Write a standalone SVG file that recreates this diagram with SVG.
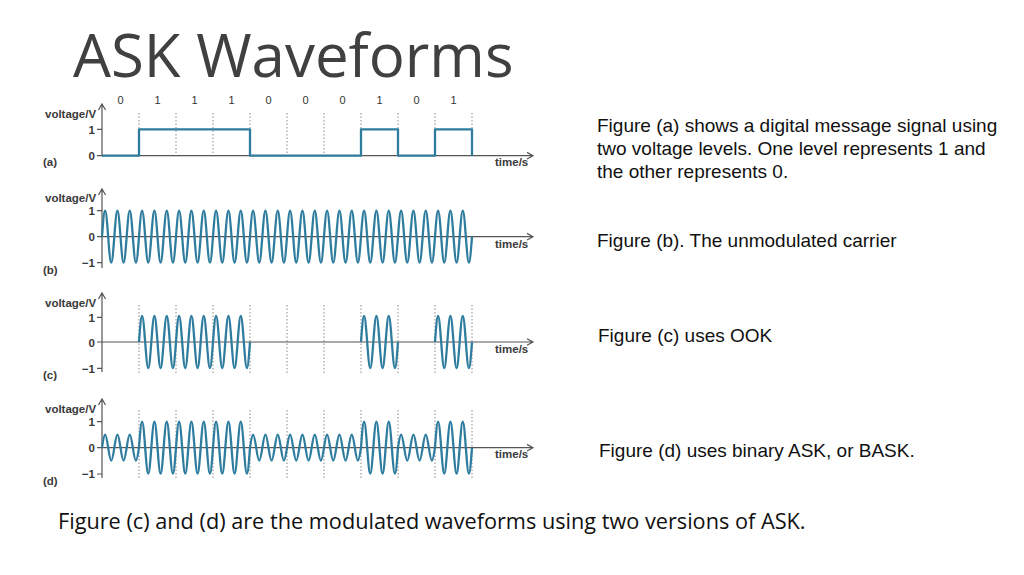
<svg xmlns="http://www.w3.org/2000/svg" xmlns:xlink="http://www.w3.org/1999/xlink" width="1024" height="575" viewBox="0 0 1024 575">
<style>
.ax{stroke:#555;stroke-width:1.2;fill:none}
.dot{stroke:#8a8a8a;stroke-width:1;stroke-dasharray:1.5 2;fill:none}
.sig{stroke:#2f7d9e;stroke-width:2.3;fill:none;stroke-linejoin:round}
.lbl{font-family:"Liberation Sans",Arial,sans-serif;font-size:11.5px;font-weight:bold;fill:#3a3a3a}
.tk{font-family:"Liberation Sans",Arial,sans-serif;font-size:11.5px;font-weight:bold;fill:#3a3a3a;text-anchor:end}
.bit{font-family:"Liberation Sans",Arial,sans-serif;font-size:11px;fill:#333;text-anchor:middle}
.desc{font-family:"Liberation Sans",Arial,sans-serif;font-size:19px;fill:#111}
</style>
<defs>
<path id="bF" d="M0,0 c2.617,-34.667 3.55,-34.667 6.167,0 s3.55,34.667 6.167,0 s3.55,-34.667 6.167,0 s3.55,34.667 6.167,0 s3.55,-34.667 6.167,0 s3.55,34.667 6.167,0"/>
<path id="bH" d="M0,0 c2.617,-17.333 3.55,-17.333 6.167,0 s3.55,17.333 6.167,0 s3.55,-17.333 6.167,0 s3.55,17.333 6.167,0 s3.55,-17.333 6.167,0 s3.55,17.333 6.167,0"/>
</defs>
<rect width="1024" height="575" fill="#fff"/>
<text x="73" y="76.5" font-family="'Open Sans',sans-serif" font-size="60" fill="#404040">ASK Waveforms</text>

<g id="panel-a">
<g class="bit">
<text x="120.5" y="103.5">0</text><text x="157.5" y="103.5">1</text><text x="194.5" y="103.5">1</text><text x="231.5" y="103.5">1</text><text x="268.5" y="103.5">0</text><text x="305.5" y="103.5">0</text><text x="342.5" y="103.5">0</text><text x="379.5" y="103.5">1</text><text x="416.5" y="103.5">0</text><text x="453.5" y="103.5">1</text>
</g>
<path class="dot" d="M139,113V155.7M176,113V155.7M213,113V155.7M250,113V155.7M287,113V155.7M324,113V155.7M361,113V155.7M398,113V155.7M435,113V155.7M472,113V155.7"/>
<path class="ax" d="M102,104V155.7M98.5,110L102,104L105.5,110M97,129.3H102M97,155.7H533M527,152.4L533,155.7L527,159"/>
<path class="sig" d="M102,155.7H139V129.3H250V155.7H361V129.3H398V155.7H435V129.3H472V155.7"/>
<text class="lbl" x="45" y="117.5">voltage/V</text>
<text class="tk" x="95" y="133.5">1</text>
<text class="tk" x="95" y="160">0</text>
<text class="lbl" x="43" y="166">(a)</text>
<text class="lbl" x="495" y="166">time/s</text>
</g>

<g id="panel-b">
<path class="ax" d="M102,189V268M98.5,195L102,189L105.5,195M97,210.7H102M97,262.7H102M97,236.7H533M527,233.4L533,236.7L527,240"/>
<g class="sig">
<use xlink:href="#bF" x="102" y="236.7"/><use xlink:href="#bF" x="139" y="236.7"/><use xlink:href="#bF" x="176" y="236.7"/><use xlink:href="#bF" x="213" y="236.7"/><use xlink:href="#bF" x="250" y="236.7"/><use xlink:href="#bF" x="287" y="236.7"/><use xlink:href="#bF" x="324" y="236.7"/><use xlink:href="#bF" x="361" y="236.7"/><use xlink:href="#bF" x="398" y="236.7"/><use xlink:href="#bF" x="435" y="236.7"/>
</g>
<text class="lbl" x="45" y="202">voltage/V</text>
<text class="tk" x="95" y="215">1</text>
<text class="tk" x="95" y="241">0</text>
<text class="tk" x="95" y="267">−1</text>
<text class="lbl" x="43" y="274">(b)</text>
<text class="lbl" x="495" y="248">time/s</text>
</g>

<g id="panel-c">
<path class="dot" d="M139,305V375M176,305V375M213,305V375M250,305V375M287,305V375M324,305V375M361,305V375M398,305V375M435,305V375M472,305V375"/>
<path class="ax" d="M102,293V372M98.5,299L102,293L105.5,299M97,317.3H102M97,368.3H102M97,342H533M527,338.7L533,342L527,345.3"/>
<g class="sig">
<use xlink:href="#bF" x="139" y="342"/><use xlink:href="#bF" x="176" y="342"/><use xlink:href="#bF" x="213" y="342"/><use xlink:href="#bF" x="361" y="342"/><use xlink:href="#bF" x="435" y="342"/>
</g>
<text class="lbl" x="45" y="306.5">voltage/V</text>
<text class="tk" x="95" y="321.5">1</text>
<text class="tk" x="95" y="346.5">0</text>
<text class="tk" x="95" y="372.5">−1</text>
<text class="lbl" x="43" y="379">(c)</text>
<text class="lbl" x="495" y="353">time/s</text>
</g>

<g id="panel-d">
<path class="dot" d="M139,410V480M176,410V480M213,410V480M250,410V480M287,410V480M324,410V480M361,410V480M398,410V480M435,410V480M472,410V480"/>
<path class="ax" d="M102,399V478M98.5,405L102,399L105.5,405M97,421.7H102M97,474H102M97,447.7H533M527,444.4L533,447.7L527,451"/>
<g class="sig">
<use xlink:href="#bH" x="102" y="447.7"/><use xlink:href="#bF" x="139" y="447.7"/><use xlink:href="#bF" x="176" y="447.7"/><use xlink:href="#bF" x="213" y="447.7"/><use xlink:href="#bH" x="250" y="447.7"/><use xlink:href="#bH" x="287" y="447.7"/><use xlink:href="#bH" x="324" y="447.7"/><use xlink:href="#bF" x="361" y="447.7"/><use xlink:href="#bH" x="398" y="447.7"/><use xlink:href="#bF" x="435" y="447.7"/>
</g>
<text class="lbl" x="45" y="412.5">voltage/V</text>
<text class="tk" x="95" y="426">1</text>
<text class="tk" x="95" y="452">0</text>
<text class="tk" x="95" y="478">−1</text>
<text class="lbl" x="43" y="485">(d)</text>
<text class="lbl" x="495" y="458">time/s</text>
</g>

<g id="descriptions">
<text class="desc" x="597" y="132">Figure (a) shows a digital message signal using</text>
<text class="desc" x="597" y="155">two voltage levels. One level represents 1 and</text>
<text class="desc" x="597" y="177.5">the other represents 0.</text>
<text class="desc" x="597" y="247">Figure (b). The unmodulated carrier</text>
<text class="desc" x="598" y="342">Figure (c) uses OOK</text>
<text class="desc" x="599" y="457">Figure (d) uses binary ASK, or BASK.</text>
</g>
<text x="58" y="529" font-family="'Open Sans',sans-serif" font-size="21.7" fill="#111">Figure (c) and (d) are the modulated waveforms using two versions of ASK.</text>
</svg>
